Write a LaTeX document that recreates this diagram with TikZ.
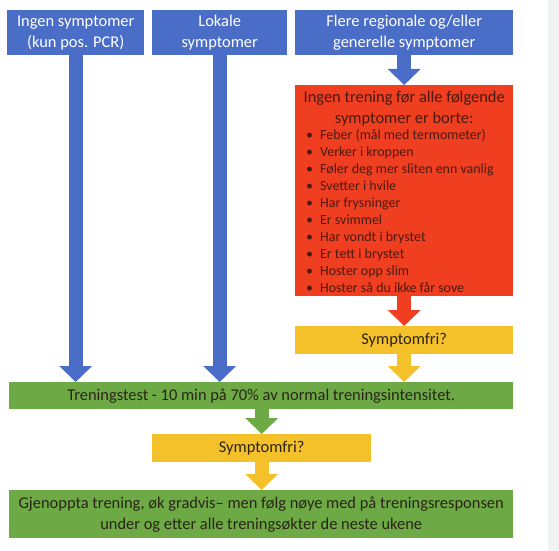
\documentclass[tikz,border=0pt]{standalone}
\usepackage{fontspec}
\setmainfont{Carlito}
\usetikzlibrary{arrows.meta,positioning}
\definecolor{symBlue}{HTML}{4A6DC8}
\definecolor{symRed}{HTML}{EF3E20}
\definecolor{symYellow}{HTML}{F5C12B}
\definecolor{symGreen}{HTML}{6DAA45}
\definecolor{symGray}{HTML}{F1F2F4}
\definecolor{symInk}{HTML}{2A2418}
\definecolor{symRedInk}{HTML}{4A1B12}
\tikzset{
  symBox/.style={
    rectangle,
    inner sep=0pt,
    align=center,
    anchor=north west,
    text=symInk,
    font=\fontsize{16.5}{21}\selectfont
  },
  blueBox/.style={symBox, fill=symBlue, text=white},
  redBox/.style={symBox, fill=symRed, text=symRedInk},
  yellowBox/.style={symBox, fill=symYellow},
  greenBox/.style={symBox, fill=symGreen},
  symArrow/.style={line width=14bp, -{Triangle[width=32bp, length=16bp]}}
}

\begin{document}
\begin{tikzpicture}[x=1bp,y=-1bp]
  \fill[white] (0,0) rectangle (559,551);
  \fill[symGray] (548,0) rectangle (559,551);
  \useasboundingbox (0,0) rectangle (559,551);

  % top row
  \node[blueBox, minimum width=137bp, minimum height=45bp] (ingen) at (7,10)
    {Ingen symptomer\\(kun pos. PCR)};
  \node[blueBox, minimum width=135bp, minimum height=45bp] (lokale) at (152,10)
    {Lokale\\symptomer};
  \node[blueBox, minimum width=218bp, minimum height=45bp] (flere) at (295,10)
    {Flere regionale og/eller\\generelle symptomer};

  % symptom list
  \node[redBox, minimum width=218bp, minimum height=211bp] (rod) at (295,85)
    {\begin{minipage}[c][211bp][t]{216bp}
      \vspace*{6bp}
      \centering\fontsize{16.5}{21}\selectfont
      Ingen trening før alle følgende\\symptomer er borte:\par
      \raggedright\fontsize{14}{17.1}\selectfont
      \begin{tabular}{@{\hspace{10bp}}l@{\hspace{7bp}}l@{}}
        \textbullet & Feber (mål med termometer)\\
        \textbullet & Verker\ i kroppen\\
        \textbullet & Føler deg mer sliten enn vanlig\\
        \textbullet & Svetter i hvile\\
        \textbullet & Har frysninger\\
        \textbullet & Er svimmel\\
        \textbullet & Har vondt i brystet\\
        \textbullet & Er tett i brystet\\
        \textbullet & Hoster opp slim\\
        \textbullet & Hoster så du ikke får sove
      \end{tabular}
    \end{minipage}};

  \node[yellowBox, minimum width=218bp, minimum height=28bp] (fri1) at (295,326)
    {Symptomfri?};
  \node[greenBox, minimum width=504bp, minimum height=27bp] (test) at (9,382)
    {Treningstest - 10 min på 70\% av normal treningsintensitet.};
  \node[yellowBox, minimum width=219bp, minimum height=28bp] (fri2) at (152,434)
    {Symptomfri?};
  \node[greenBox, minimum width=504bp, minimum height=48bp] (gjenoppta) at (9,490)
    {Gjenoppta trening, øk gradvis– men følg nøye med på treningsresponsen\\
     under og etter alle treningsøkter de neste ukene};

  % block arrows
  \draw[symArrow, symBlue] (ingen.south) -- (ingen.south |- test.north);
  \draw[symArrow, symBlue] (lokale.south) -- (lokale.south |- test.north);
  \draw[symArrow, symBlue] (flere.south) -- (rod.north);
  \draw[symArrow, symRed] (rod.south) -- (fri1.north);
  \draw[symArrow, symYellow] (fri1.south) -- (fri1.south |- test.north);
  \draw[symArrow, symGreen] (fri2.north |- test.south) -- (fri2.north);
  \draw[symArrow, symYellow] (fri2.south) -- (fri2.south |- gjenoppta.north);
\end{tikzpicture}
\end{document}
